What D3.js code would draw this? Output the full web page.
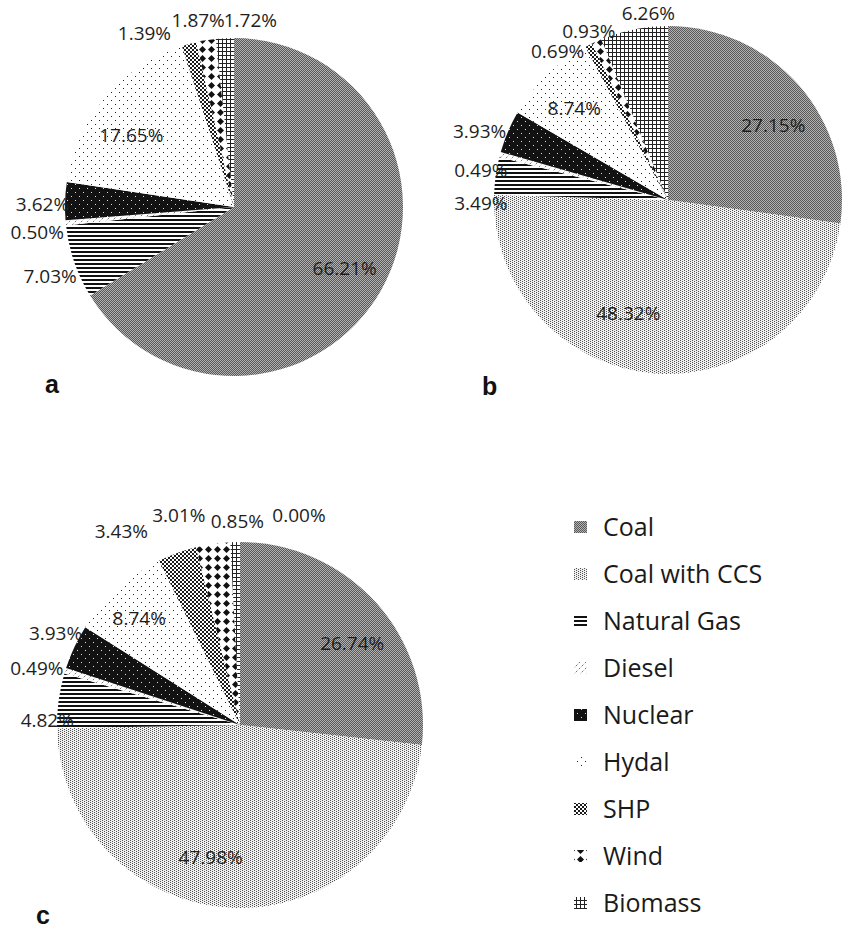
<!DOCTYPE html>
<html>
<head>
<meta charset="utf-8">
<script src="https://cdn.jsdelivr.net/npm/d3@7"></script>
<style>
  body { margin: 0; background: #fff; }
  svg { display: block; }
</style>
</head>
<body>
<svg id="chart" width="845" height="929"></svg>
<script>
// Generation mix shares (%) by technology for the three scenarios.
const categories = ["Coal", "Coal with CCS", "Natural Gas", "Diesel", "Nuclear", "Hydal", "SHP", "Wind", "Biomass"];
const valuesA = [66.21, 0.00, 7.03, 0.50, 3.62, 17.65, 1.39, 1.87, 1.72];
const valuesB = [27.15, 48.32, 3.49, 0.49, 3.93, 8.74, 0.69, 0.93, 6.26];
// the trailing zero entry carries the stand-alone 0.00% label
const valuesC = [26.74, 47.98, 4.82, 0.49, 3.93, 8.74, 3.43, 3.01, 0.85, 0.00];
const panelLetters = ["a", "b", "c"];

// Label nudges [dx, dy] per slice (null = no label), applied after default placement.
const nudgesA = [[0, -1], null, [3, 11], [0, 8], [6, 3], [-6, 10], [-37, -2], [-3, -11.5], [27, -9]];
const nudgesB = [[7, 11], [-29, -17], [13.5, 29], [8.5, 18], [-2, 3], [-3, 2], [-18, 14], [4, -2], [20, -7]];
const nudgesC = [[10, 10], [-23, -5], [17, 21], [-1, 0], [7, -10], [-9, -4.5], [-46, -13], [-30, -20], [3, -12], [59, -18]];

const panels = [
  { values: valuesA, nudges: nudgesA, letter: panelLetters[0], cx: 234, cy: 207, r: 169, lx: 45, ly: 393 },
  { values: valuesB, nudges: nudgesB, letter: panelLetters[1], cx: 668, cy: 200, r: 174, lx: 482, ly: 395 },
  { values: valuesC, nudges: nudgesC, letter: panelLetters[2], cx: 240, cy: 725, r: 183, lx: 36, ly: 924 }
];

const svg = d3.select("#chart");
const defs = svg.append("defs");

function makePattern(id, w, h, bg, draw) {
  const p = defs.append("pattern")
    .attr("id", id)
    .attr("patternUnits", "userSpaceOnUse")
    .attr("width", w).attr("height", h);
  p.append("rect").attr("width", w).attr("height", h).attr("fill", bg);
  draw(p);
}
function px(p, x, y, w, h, fill) {
  p.append("rect").attr("x", x).attr("y", y).attr("width", w).attr("height", h)
    .attr("fill", fill).attr("shape-rendering", "crispEdges");
}

// Monochrome fill patterns, one per technology
makePattern("pat0", 2, 2, "#b2b2b2", p => { px(p, 0, 0, 1, 1, "#585858"); px(p, 1, 1, 1, 1, "#585858"); });
makePattern("pat1", 4, 2, "#f0f0f0", p => { px(p, 0, 0, 1, 1, "#505050"); px(p, 2, 1, 1, 1, "#505050"); });
makePattern("pat2", 4, 4, "#fff", p => { px(p, 0, 0, 4, 2, "#111"); });
makePattern("pat3", 6, 6, "#fff", p => {
  p.append("path").attr("d", "M0,6 L6,0").attr("stroke", "#777").attr("stroke-width", 1)
    .attr("stroke-dasharray", "2,2").attr("fill", "none");
});
makePattern("pat4", 8, 8, "#121212", p => { px(p, 1, 1, 1, 1, "#ddd"); px(p, 5, 5, 1, 1, "#ddd"); });
makePattern("pat5", 8, 8, "#fff", p => { px(p, 1, 1, 1, 1, "#222"); px(p, 5, 5, 1, 1, "#222"); });
makePattern("pat6", 4, 4, "#fff", p => { px(p, 0, 0, 2, 2, "#1a1a1a"); px(p, 2, 2, 2, 2, "#1a1a1a"); });
makePattern("pat7", 9, 9, "#fff", p => {
  p.append("polygon").attr("points", "4.5,1 8,4.5 4.5,8 1,4.5").attr("fill", "#111");
});
makePattern("pat8", 4, 4, "#fff", p => { px(p, 0, 0, 4, 1, "#222"); px(p, 0, 0, 1, 4, "#222"); });

const fillFor = i => i < categories.length ? `url(#pat${i})` : "none";
const fmt = v => v.toFixed(2) + "%";

const pie = d3.pie().sort(null).value(d => d.value);
const labelFont = "'Open Sans', sans-serif";
const labelSize = 19;
const capHalf = 6.8;

panels.forEach(panel => {
  const data = panel.values.map((v, i) => ({ value: v, index: i }));
  const arcs = pie(data);
  const arc = d3.arc().innerRadius(0).outerRadius(panel.r);
  const g = svg.append("g").attr("transform", `translate(${panel.cx},${panel.cy})`);

  g.selectAll("path.slice")
    .data(arcs.filter(a => a.data.value > 0))
    .join("path")
    .attr("class", "slice")
    .attr("d", arc)
    .attr("fill", a => fillFor(a.data.index));

  const labelled = arcs.filter(a => panel.nudges[a.data.index]);
  labelled.forEach(a => {
    const i = a.data.index;
    const mid = (a.startAngle + a.endAngle) / 2;
    const dirX = Math.sin(mid), dirY = -Math.cos(mid);
    const t = g.append("text")
      .attr("font-family", labelFont)
      .attr("font-size", labelSize)
      .attr("fill", "#1e1e1e")
      .attr("text-anchor", "middle")
      .text(fmt(a.data.value));
    let x, y;
    if (a.data.value >= 8) {
      const rr = panel.r * 0.75;
      x = dirX * rr; y = dirY * rr;
    } else {
      const w = t.node().getComputedTextLength();
      const rr = panel.r + 2;
      x = dirX * rr + dirX * w / 2;
      y = dirY * rr + dirY * 7;
    }
    const [dx, dy] = panel.nudges[i];
    t.attr("x", x + dx).attr("y", y + dy + capHalf);
  });

  svg.append("text")
    .attr("x", panel.lx).attr("y", panel.ly)
    .attr("font-family", "'Liberation Sans', Arial, sans-serif")
    .attr("font-weight", "bold")
    .attr("font-size", 25)
    .attr("fill", "#111")
    .text(panel.letter);
});

// Legend
const legendY = d3.scalePoint().domain(categories).range([527, 903]);
const legend = svg.append("g");
categories.forEach((c, i) => {
  const y = legendY(c);
  legend.append("rect")
    .attr("x", 574).attr("y", y - 6).attr("width", 13).attr("height", 12)
    .attr("fill", fillFor(i));
  legend.append("text")
    .attr("x", 603).attr("y", y + 8.8)
    .attr("font-family", "'Open Sans', sans-serif")
    .attr("font-size", 25)
    .attr("fill", "#1a1a1a")
    .text(c);
});
</script>
</body>
</html>
